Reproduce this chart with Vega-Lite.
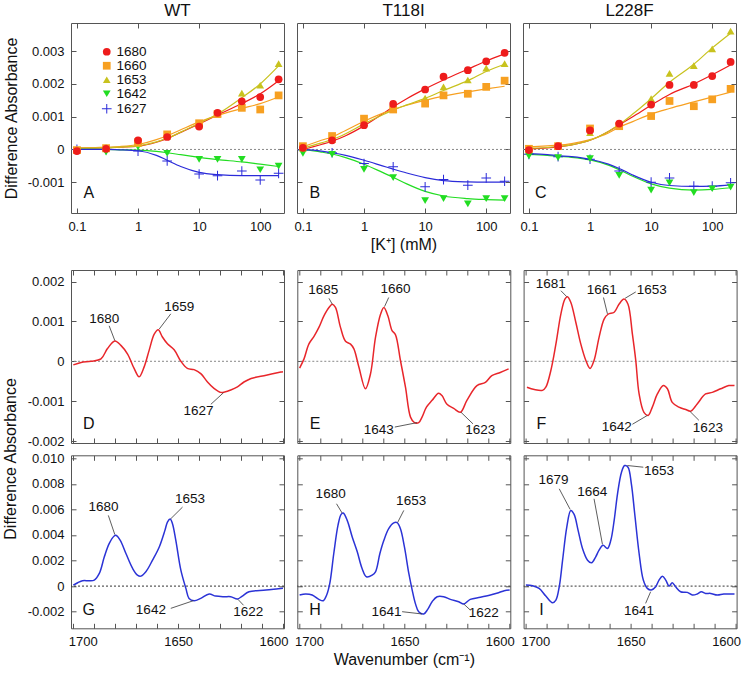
{
"$schema": "https://vega.github.io/schema/vega-lite/v6.json",
"padding": {"left": 2, "top": 1, "right": 2, "bottom": 2},
"config": {
  "font": "Liberation Sans",
  "view": {"stroke": "#555", "strokeWidth": 1},
  "axis": {"domain": false, "grid": false, "tickSize": 5, "offset": -5, "tickColor": "#555", "tickWidth": 1, "labelFontSize": 13, "labelColor": "#111", "labelPadding": 7, "titleFontSize": 16, "titleFontWeight": "normal", "titleColor": "#111", "labelOverlap": false},
  "title": {"fontSize": 17, "fontWeight": "normal", "color": "#111"}
},
"datasets": {
  "titr": [
    {"panel":"A","series":"1627","conc":0.1,"value":0},{"panel":"A","series":"1627","conc":0.3,"value":0},{"panel":"A","series":"1627","conc":1,"value":-0.00005},{"panel":"A","series":"1627","conc":3,"value":-0.00035},{"panel":"A","series":"1627","conc":10,"value":-0.00075},{"panel":"A","series":"1627","conc":20,"value":-0.0008},{"panel":"A","series":"1627","conc":50,"value":-0.00066},{"panel":"A","series":"1627","conc":100,"value":-0.00093},{"panel":"A","series":"1627","conc":200,"value":-0.00073},
    {"panel":"A","series":"1642","conc":0.1,"value":-0.00003},{"panel":"A","series":"1642","conc":0.3,"value":-0.00008},{"panel":"A","series":"1642","conc":1,"value":0.00008},{"panel":"A","series":"1642","conc":3,"value":-0.00012},{"panel":"A","series":"1642","conc":10,"value":-0.0003},{"panel":"A","series":"1642","conc":20,"value":-0.0003},{"panel":"A","series":"1642","conc":50,"value":-0.0003},{"panel":"A","series":"1642","conc":100,"value":-0.00062},{"panel":"A","series":"1642","conc":200,"value":-0.00051},
    {"panel":"A","series":"1653","conc":0.1,"value":-0.00002},{"panel":"A","series":"1653","conc":0.3,"value":0.00002},{"panel":"A","series":"1653","conc":1,"value":0.00018},{"panel":"A","series":"1653","conc":3,"value":0.0004},{"panel":"A","series":"1653","conc":10,"value":0.00075},{"panel":"A","series":"1653","conc":20,"value":0.0011},{"panel":"A","series":"1653","conc":50,"value":0.00172},{"panel":"A","series":"1653","conc":100,"value":0.00196},{"panel":"A","series":"1653","conc":200,"value":0.00262},
    {"panel":"A","series":"1660","conc":0.1,"value":-0.00002},{"panel":"A","series":"1660","conc":0.3,"value":0.00004},{"panel":"A","series":"1660","conc":1,"value":0.00022},{"panel":"A","series":"1660","conc":3,"value":0.00046},{"panel":"A","series":"1660","conc":10,"value":0.0008},{"panel":"A","series":"1660","conc":20,"value":0.00108},{"panel":"A","series":"1660","conc":50,"value":0.00127},{"panel":"A","series":"1660","conc":100,"value":0.00122},{"panel":"A","series":"1660","conc":200,"value":0.00165},
    {"panel":"A","series":"1680","conc":0.1,"value":-0.00005},{"panel":"A","series":"1680","conc":0.3,"value":0.00002},{"panel":"A","series":"1680","conc":1,"value":0.00028},{"panel":"A","series":"1680","conc":3,"value":0.00038},{"panel":"A","series":"1680","conc":10,"value":0.0007},{"panel":"A","series":"1680","conc":20,"value":0.00112},{"panel":"A","series":"1680","conc":50,"value":0.00147},{"panel":"A","series":"1680","conc":100,"value":0.0016},{"panel":"A","series":"1680","conc":200,"value":0.00214},
    {"panel":"B","series":"1627","conc":0.1,"value":-0.00002},{"panel":"B","series":"1627","conc":0.3,"value":-0.0001},{"panel":"B","series":"1627","conc":1,"value":-0.00043},{"panel":"B","series":"1627","conc":3,"value":-0.00053},{"panel":"B","series":"1627","conc":10,"value":-0.00114},{"panel":"B","series":"1627","conc":20,"value":-0.00092},{"panel":"B","series":"1627","conc":50,"value":-0.00109},{"panel":"B","series":"1627","conc":100,"value":-0.00087},{"panel":"B","series":"1627","conc":200,"value":-0.00097},
    {"panel":"B","series":"1642","conc":0.1,"value":-0.00012},{"panel":"B","series":"1642","conc":0.3,"value":-0.00015},{"panel":"B","series":"1642","conc":1,"value":-0.00061},{"panel":"B","series":"1642","conc":3,"value":-0.00086},{"panel":"B","series":"1642","conc":10,"value":-0.00156},{"panel":"B","series":"1642","conc":20,"value":-0.0015},{"panel":"B","series":"1642","conc":50,"value":-0.00166},{"panel":"B","series":"1642","conc":100,"value":-0.0015},{"panel":"B","series":"1642","conc":200,"value":-0.0015},
    {"panel":"B","series":"1653","conc":0.1,"value":0.00004},{"panel":"B","series":"1653","conc":0.3,"value":0.0003},{"panel":"B","series":"1653","conc":1,"value":0.0008},{"panel":"B","series":"1653","conc":3,"value":0.00122},{"panel":"B","series":"1653","conc":10,"value":0.00157},{"panel":"B","series":"1653","conc":20,"value":0.00191},{"panel":"B","series":"1653","conc":50,"value":0.00212},{"panel":"B","series":"1653","conc":100,"value":0.00248},{"panel":"B","series":"1653","conc":200,"value":0.00262},
    {"panel":"B","series":"1660","conc":0.1,"value":0.0001},{"panel":"B","series":"1660","conc":0.3,"value":0.00041},{"panel":"B","series":"1660","conc":1,"value":0.00094},{"panel":"B","series":"1660","conc":3,"value":0.00122},{"panel":"B","series":"1660","conc":10,"value":0.0014},{"panel":"B","series":"1660","conc":20,"value":0.00165},{"panel":"B","series":"1660","conc":50,"value":0.0017},{"panel":"B","series":"1660","conc":100,"value":0.00191},{"panel":"B","series":"1660","conc":200,"value":0.0021},
    {"panel":"B","series":"1680","conc":0.1,"value":0.00005},{"panel":"B","series":"1680","conc":0.3,"value":0.00028},{"panel":"B","series":"1680","conc":1,"value":0.00074},{"panel":"B","series":"1680","conc":3,"value":0.00139},{"panel":"B","series":"1680","conc":10,"value":0.00183},{"panel":"B","series":"1680","conc":20,"value":0.00222},{"panel":"B","series":"1680","conc":50,"value":0.00242},{"panel":"B","series":"1680","conc":100,"value":0.00269},{"panel":"B","series":"1680","conc":200,"value":0.00295},
    {"panel":"C","series":"1627","conc":0.1,"value":-0.00015},{"panel":"C","series":"1627","conc":0.3,"value":-0.00022},{"panel":"C","series":"1627","conc":1,"value":-0.0003},{"panel":"C","series":"1627","conc":3,"value":-0.00066},{"panel":"C","series":"1627","conc":10,"value":-0.001},{"panel":"C","series":"1627","conc":20,"value":-0.00087},{"panel":"C","series":"1627","conc":50,"value":-0.00112},{"panel":"C","series":"1627","conc":100,"value":-0.00112},{"panel":"C","series":"1627","conc":200,"value":-0.00102},
    {"panel":"C","series":"1642","conc":0.1,"value":-0.0002},{"panel":"C","series":"1642","conc":0.3,"value":-0.00025},{"panel":"C","series":"1642","conc":1,"value":-0.00028},{"panel":"C","series":"1642","conc":3,"value":-0.00079},{"panel":"C","series":"1642","conc":10,"value":-0.00124},{"panel":"C","series":"1642","conc":20,"value":-0.00102},{"panel":"C","series":"1642","conc":50,"value":-0.00132},{"panel":"C","series":"1642","conc":100,"value":-0.0012},{"panel":"C","series":"1642","conc":200,"value":-0.00115},
    {"panel":"C","series":"1653","conc":0.1,"value":0},{"panel":"C","series":"1653","conc":0.3,"value":0.0001},{"panel":"C","series":"1653","conc":1,"value":0.00051},{"panel":"C","series":"1653","conc":3,"value":0.00075},{"panel":"C","series":"1653","conc":10,"value":0.00155},{"panel":"C","series":"1653","conc":20,"value":0.00232},{"panel":"C","series":"1653","conc":50,"value":0.00256},{"panel":"C","series":"1653","conc":100,"value":0.00307},{"panel":"C","series":"1653","conc":200,"value":0.00361},
    {"panel":"C","series":"1660","conc":0.1,"value":0.00002},{"panel":"C","series":"1660","conc":0.3,"value":0.0001},{"panel":"C","series":"1660","conc":1,"value":0.00064},{"panel":"C","series":"1660","conc":3,"value":0.00071},{"panel":"C","series":"1660","conc":10,"value":0.00102},{"panel":"C","series":"1660","conc":20,"value":0.00148},{"panel":"C","series":"1660","conc":50,"value":0.00132},{"panel":"C","series":"1660","conc":100,"value":0.00153},{"panel":"C","series":"1660","conc":200,"value":0.00185},
    {"panel":"C","series":"1680","conc":0.1,"value":-0.00002},{"panel":"C","series":"1680","conc":0.3,"value":0.0001},{"panel":"C","series":"1680","conc":1,"value":0.00058},{"panel":"C","series":"1680","conc":3,"value":0.00079},{"panel":"C","series":"1680","conc":10,"value":0.00137},{"panel":"C","series":"1680","conc":20,"value":0.00197},{"panel":"C","series":"1680","conc":50,"value":0.00197},{"panel":"C","series":"1680","conc":100,"value":0.00224},{"panel":"C","series":"1680","conc":200,"value":0.00267}
  ],
  "fit": [
    {"panel":"A","series":"1680","conc":0.1,"value":0.00003},{"panel":"A","series":"1680","conc":0.2,"value":0.00004},{"panel":"A","series":"1680","conc":0.3,"value":0.00005},{"panel":"A","series":"1680","conc":0.5,"value":0.00007},{"panel":"A","series":"1680","conc":1,"value":0.0001},{"panel":"A","series":"1680","conc":2,"value":0.00022},{"panel":"A","series":"1680","conc":3,"value":0.00033},{"panel":"A","series":"1680","conc":5,"value":0.00052},{"panel":"A","series":"1680","conc":10,"value":0.00078},{"panel":"A","series":"1680","conc":20,"value":0.00105},{"panel":"A","series":"1680","conc":50,"value":0.0014},{"panel":"A","series":"1680","conc":100,"value":0.0017},{"panel":"A","series":"1680","conc":200,"value":0.0021},
    {"panel":"A","series":"1660","conc":0.1,"value":0.00005},{"panel":"A","series":"1660","conc":0.2,"value":0.00006},{"panel":"A","series":"1660","conc":0.3,"value":0.00007},{"panel":"A","series":"1660","conc":0.5,"value":0.00009},{"panel":"A","series":"1660","conc":1,"value":0.00015},{"panel":"A","series":"1660","conc":2,"value":0.0003},{"panel":"A","series":"1660","conc":3,"value":0.00042},{"panel":"A","series":"1660","conc":5,"value":0.0006},{"panel":"A","series":"1660","conc":10,"value":0.00084},{"panel":"A","series":"1660","conc":20,"value":0.00104},{"panel":"A","series":"1660","conc":50,"value":0.00125},{"panel":"A","series":"1660","conc":100,"value":0.0014},{"panel":"A","series":"1660","conc":200,"value":0.0016},
    {"panel":"A","series":"1653","conc":0.1,"value":0.00003},{"panel":"A","series":"1653","conc":0.2,"value":0.00004},{"panel":"A","series":"1653","conc":0.3,"value":0.00005},{"panel":"A","series":"1653","conc":0.5,"value":0.00007},{"panel":"A","series":"1653","conc":1,"value":0.00011},{"panel":"A","series":"1653","conc":2,"value":0.00023},{"panel":"A","series":"1653","conc":3,"value":0.00034},{"panel":"A","series":"1653","conc":5,"value":0.00053},{"panel":"A","series":"1653","conc":10,"value":0.0008},{"panel":"A","series":"1653","conc":20,"value":0.00108},{"panel":"A","series":"1653","conc":50,"value":0.00158},{"panel":"A","series":"1653","conc":100,"value":0.002},{"panel":"A","series":"1653","conc":200,"value":0.00255},
    {"panel":"A","series":"1642","conc":0.1,"value":0},{"panel":"A","series":"1642","conc":0.2,"value":0},{"panel":"A","series":"1642","conc":0.3,"value":0},{"panel":"A","series":"1642","conc":0.5,"value":-0.00001},{"panel":"A","series":"1642","conc":1,"value":-0.00002},{"panel":"A","series":"1642","conc":2,"value":-0.00006},{"panel":"A","series":"1642","conc":3,"value":-0.0001},{"panel":"A","series":"1642","conc":5,"value":-0.00016},{"panel":"A","series":"1642","conc":10,"value":-0.00024},{"panel":"A","series":"1642","conc":20,"value":-0.00031},{"panel":"A","series":"1642","conc":50,"value":-0.00038},{"panel":"A","series":"1642","conc":100,"value":-0.00045},{"panel":"A","series":"1642","conc":200,"value":-0.00052},
    {"panel":"A","series":"1627","conc":0.1,"value":0},{"panel":"A","series":"1627","conc":0.2,"value":0},{"panel":"A","series":"1627","conc":0.3,"value":0},{"panel":"A","series":"1627","conc":0.5,"value":-0.00001},{"panel":"A","series":"1627","conc":1,"value":-0.00004},{"panel":"A","series":"1627","conc":2,"value":-0.00018},{"panel":"A","series":"1627","conc":3,"value":-0.00033},{"panel":"A","series":"1627","conc":5,"value":-0.00052},{"panel":"A","series":"1627","conc":10,"value":-0.0007},{"panel":"A","series":"1627","conc":20,"value":-0.00077},{"panel":"A","series":"1627","conc":50,"value":-0.0008},{"panel":"A","series":"1627","conc":100,"value":-0.0008},{"panel":"A","series":"1627","conc":200,"value":-0.0008},
    {"panel":"B","series":"1680","conc":0.1,"value":0},{"panel":"B","series":"1680","conc":0.2,"value":0.00015},{"panel":"B","series":"1680","conc":0.3,"value":0.00025},{"panel":"B","series":"1680","conc":0.5,"value":0.00042},{"panel":"B","series":"1680","conc":1,"value":0.00072},{"panel":"B","series":"1680","conc":2,"value":0.00108},{"panel":"B","series":"1680","conc":3,"value":0.0013},{"panel":"B","series":"1680","conc":5,"value":0.00155},{"panel":"B","series":"1680","conc":10,"value":0.00185},{"panel":"B","series":"1680","conc":20,"value":0.00212},{"panel":"B","series":"1680","conc":50,"value":0.00245},{"panel":"B","series":"1680","conc":100,"value":0.0027},{"panel":"B","series":"1680","conc":200,"value":0.00292},
    {"panel":"B","series":"1660","conc":0.1,"value":0.00008},{"panel":"B","series":"1660","conc":0.2,"value":0.00028},{"panel":"B","series":"1660","conc":0.3,"value":0.00038},{"panel":"B","series":"1660","conc":0.5,"value":0.00058},{"panel":"B","series":"1660","conc":1,"value":0.00086},{"panel":"B","series":"1660","conc":2,"value":0.0011},{"panel":"B","series":"1660","conc":3,"value":0.00122},{"panel":"B","series":"1660","conc":5,"value":0.00135},{"panel":"B","series":"1660","conc":10,"value":0.0015},{"panel":"B","series":"1660","conc":20,"value":0.00163},{"panel":"B","series":"1660","conc":50,"value":0.00176},{"panel":"B","series":"1660","conc":100,"value":0.00185},{"panel":"B","series":"1660","conc":200,"value":0.00193},
    {"panel":"B","series":"1653","conc":0.1,"value":0.00004},{"panel":"B","series":"1653","conc":0.2,"value":0.0002},{"panel":"B","series":"1653","conc":0.3,"value":0.0003},{"panel":"B","series":"1653","conc":0.5,"value":0.00048},{"panel":"B","series":"1653","conc":1,"value":0.00078},{"panel":"B","series":"1653","conc":2,"value":0.00105},{"panel":"B","series":"1653","conc":3,"value":0.0012},{"panel":"B","series":"1653","conc":5,"value":0.00136},{"panel":"B","series":"1653","conc":10,"value":0.00156},{"panel":"B","series":"1653","conc":20,"value":0.0018},{"panel":"B","series":"1653","conc":50,"value":0.0021},{"panel":"B","series":"1653","conc":100,"value":0.00238},{"panel":"B","series":"1653","conc":200,"value":0.0026},
    {"panel":"B","series":"1642","conc":0.1,"value":0},{"panel":"B","series":"1642","conc":0.2,"value":-0.00008},{"panel":"B","series":"1642","conc":0.3,"value":-0.00014},{"panel":"B","series":"1642","conc":0.5,"value":-0.00025},{"panel":"B","series":"1642","conc":1,"value":-0.00045},{"panel":"B","series":"1642","conc":2,"value":-0.0007},{"panel":"B","series":"1642","conc":3,"value":-0.00085},{"panel":"B","series":"1642","conc":5,"value":-0.00105},{"panel":"B","series":"1642","conc":10,"value":-0.00128},{"panel":"B","series":"1642","conc":20,"value":-0.00142},{"panel":"B","series":"1642","conc":50,"value":-0.0015},{"panel":"B","series":"1642","conc":100,"value":-0.00153},{"panel":"B","series":"1642","conc":200,"value":-0.00155},
    {"panel":"B","series":"1627","conc":0.1,"value":0},{"panel":"B","series":"1627","conc":0.2,"value":-0.00005},{"panel":"B","series":"1627","conc":0.3,"value":-0.0001},{"panel":"B","series":"1627","conc":0.5,"value":-0.00018},{"panel":"B","series":"1627","conc":1,"value":-0.00033},{"panel":"B","series":"1627","conc":2,"value":-0.0005},{"panel":"B","series":"1627","conc":3,"value":-0.0006},{"panel":"B","series":"1627","conc":5,"value":-0.00072},{"panel":"B","series":"1627","conc":10,"value":-0.00086},{"panel":"B","series":"1627","conc":20,"value":-0.00095},{"panel":"B","series":"1627","conc":50,"value":-0.00099},{"panel":"B","series":"1627","conc":100,"value":-0.001},{"panel":"B","series":"1627","conc":200,"value":-0.001},
    {"panel":"C","series":"1680","conc":0.1,"value":0.00002},{"panel":"C","series":"1680","conc":0.2,"value":0.00005},{"panel":"C","series":"1680","conc":0.3,"value":0.00008},{"panel":"C","series":"1680","conc":0.5,"value":0.00014},{"panel":"C","series":"1680","conc":1,"value":0.00028},{"panel":"C","series":"1680","conc":2,"value":0.00055},{"panel":"C","series":"1680","conc":3,"value":0.00075},{"panel":"C","series":"1680","conc":5,"value":0.001},{"panel":"C","series":"1680","conc":10,"value":0.00135},{"panel":"C","series":"1680","conc":20,"value":0.00168},{"panel":"C","series":"1680","conc":50,"value":0.002},{"panel":"C","series":"1680","conc":100,"value":0.00228},{"panel":"C","series":"1680","conc":200,"value":0.00258},
    {"panel":"C","series":"1660","conc":0.1,"value":0.00008},{"panel":"C","series":"1660","conc":0.2,"value":0.00011},{"panel":"C","series":"1660","conc":0.3,"value":0.00013},{"panel":"C","series":"1660","conc":0.5,"value":0.00018},{"panel":"C","series":"1660","conc":1,"value":0.0003},{"panel":"C","series":"1660","conc":2,"value":0.0005},{"panel":"C","series":"1660","conc":3,"value":0.00068},{"panel":"C","series":"1660","conc":5,"value":0.00085},{"panel":"C","series":"1660","conc":10,"value":0.00108},{"panel":"C","series":"1660","conc":20,"value":0.00125},{"panel":"C","series":"1660","conc":50,"value":0.00145},{"panel":"C","series":"1660","conc":100,"value":0.0016},{"panel":"C","series":"1660","conc":200,"value":0.00175},
    {"panel":"C","series":"1653","conc":0.1,"value":0.00004},{"panel":"C","series":"1653","conc":0.2,"value":0.00006},{"panel":"C","series":"1653","conc":0.3,"value":0.00009},{"panel":"C","series":"1653","conc":0.5,"value":0.00014},{"panel":"C","series":"1653","conc":1,"value":0.00028},{"panel":"C","series":"1653","conc":2,"value":0.00055},{"panel":"C","series":"1653","conc":3,"value":0.00076},{"panel":"C","series":"1653","conc":5,"value":0.00108},{"panel":"C","series":"1653","conc":10,"value":0.00155},{"panel":"C","series":"1653","conc":20,"value":0.00205},{"panel":"C","series":"1653","conc":50,"value":0.0026},{"panel":"C","series":"1653","conc":100,"value":0.0031},{"panel":"C","series":"1653","conc":200,"value":0.00355},
    {"panel":"C","series":"1642","conc":0.1,"value":-0.00015},{"panel":"C","series":"1642","conc":0.2,"value":-0.00018},{"panel":"C","series":"1642","conc":0.3,"value":-0.00021},{"panel":"C","series":"1642","conc":0.5,"value":-0.00024},{"panel":"C","series":"1642","conc":1,"value":-0.00032},{"panel":"C","series":"1642","conc":2,"value":-0.00048},{"panel":"C","series":"1642","conc":3,"value":-0.00062},{"panel":"C","series":"1642","conc":5,"value":-0.00082},{"panel":"C","series":"1642","conc":10,"value":-0.00105},{"panel":"C","series":"1642","conc":20,"value":-0.00118},{"panel":"C","series":"1642","conc":50,"value":-0.00124},{"panel":"C","series":"1642","conc":100,"value":-0.00122},{"panel":"C","series":"1642","conc":200,"value":-0.00117},
    {"panel":"C","series":"1627","conc":0.1,"value":-0.00013},{"panel":"C","series":"1627","conc":0.2,"value":-0.00016},{"panel":"C","series":"1627","conc":0.3,"value":-0.00019},{"panel":"C","series":"1627","conc":0.5,"value":-0.00022},{"panel":"C","series":"1627","conc":1,"value":-0.0003},{"panel":"C","series":"1627","conc":2,"value":-0.00045},{"panel":"C","series":"1627","conc":3,"value":-0.00058},{"panel":"C","series":"1627","conc":5,"value":-0.00078},{"panel":"C","series":"1627","conc":10,"value":-0.001},{"panel":"C","series":"1627","conc":20,"value":-0.0011},{"panel":"C","series":"1627","conc":50,"value":-0.00113},{"panel":"C","series":"1627","conc":100,"value":-0.00112},{"panel":"C","series":"1627","conc":200,"value":-0.00108}
  ],
  "spec": [
    {"panel":"D","wn":1700,"value":-0.00009},{"panel":"D","wn":1696.3,"value":-0.00003},{"panel":"D","wn":1691.6,"value":0},{"panel":"D","wn":1686.8,"value":0.00006},{"panel":"D","wn":1683.7,"value":0.00032},{"panel":"D","wn":1680.2,"value":0.00051},{"panel":"D","wn":1677.3,"value":0.0004},{"panel":"D","wn":1674.1,"value":0.00018},{"panel":"D","wn":1671,"value":-0.00018},{"panel":"D","wn":1668.6,"value":-0.00039},{"panel":"D","wn":1666.2,"value":-0.00014},{"panel":"D","wn":1663.8,"value":0.00028},{"panel":"D","wn":1661.4,"value":0.00068},{"panel":"D","wn":1659.5,"value":0.00079},{"panel":"D","wn":1657.5,"value":0.00061},{"panel":"D","wn":1655.1,"value":0.00044},{"panel":"D","wn":1651.9,"value":0.00029},{"panel":"D","wn":1648.7,"value":0},{"panel":"D","wn":1645.6,"value":-0.00018},{"panel":"D","wn":1642.4,"value":-0.00021},{"panel":"D","wn":1639.2,"value":-0.00031},{"panel":"D","wn":1636,"value":-0.00052},{"panel":"D","wn":1632.9,"value":-0.00068},{"panel":"D","wn":1629.7,"value":-0.00078},{"panel":"D","wn":1627.8,"value":-0.00077},{"panel":"D","wn":1624.9,"value":-0.00072},{"panel":"D","wn":1621.7,"value":-0.00064},{"panel":"D","wn":1618.6,"value":-0.00052},{"panel":"D","wn":1615.2,"value":-0.00043},{"panel":"D","wn":1608,"value":-0.00035},{"panel":"D","wn":1601,"value":-0.00027},{"panel":"D","wn":1600,"value":-0.00026},
    {"panel":"E","wn":1700,"value":-0.00017},{"panel":"E","wn":1697.9,"value":0.00006},{"panel":"E","wn":1695.6,"value":0.00043},{"panel":"E","wn":1693.2,"value":0.00062},{"panel":"E","wn":1690.8,"value":0.00085},{"panel":"E","wn":1688.4,"value":0.00114},{"panel":"E","wn":1686,"value":0.00135},{"panel":"E","wn":1684.4,"value":0.00143},{"panel":"E","wn":1682.9,"value":0.00135},{"panel":"E","wn":1680.5,"value":0.00085},{"panel":"E","wn":1678.1,"value":0.0005},{"panel":"E","wn":1675.7,"value":0.00043},{"panel":"E","wn":1674.1,"value":0.00031},{"panel":"E","wn":1671.7,"value":-0.00015},{"panel":"E","wn":1668.6,"value":-0.00069},{"panel":"E","wn":1666.2,"value":-0.00032},{"panel":"E","wn":1663.8,"value":0.0006},{"panel":"E","wn":1661.4,"value":0.00118},{"panel":"E","wn":1659.8,"value":0.00135},{"panel":"E","wn":1657.9,"value":0.00114},{"panel":"E","wn":1655.9,"value":0.00077},{"panel":"E","wn":1654.3,"value":0.00067},{"panel":"E","wn":1651.9,"value":0.00002},{"panel":"E","wn":1649.5,"value":-0.00065},{"panel":"E","wn":1647.1,"value":-0.0014},{"panel":"E","wn":1645.2,"value":-0.00154},{"panel":"E","wn":1643.2,"value":-0.00154},{"panel":"E","wn":1641.6,"value":-0.0014},{"panel":"E","wn":1639.5,"value":-0.00115},{"panel":"E","wn":1636.8,"value":-0.00098},{"panel":"E","wn":1633.7,"value":-0.0008},{"panel":"E","wn":1632.1,"value":-0.00086},{"panel":"E","wn":1629.7,"value":-0.00108},{"panel":"E","wn":1626.5,"value":-0.00118},{"panel":"E","wn":1623.3,"value":-0.00128},{"panel":"E","wn":1620.2,"value":-0.00098},{"panel":"E","wn":1615.4,"value":-0.00061},{"panel":"E","wn":1611.4,"value":-0.00053},{"panel":"E","wn":1608.3,"value":-0.00036},{"panel":"E","wn":1604.3,"value":-0.00028},{"panel":"E","wn":1600.3,"value":-0.00019},
    {"panel":"F","wn":1699.5,"value":-0.00065},{"panel":"F","wn":1696,"value":-0.00071},{"panel":"F","wn":1692.1,"value":-0.00073},{"panel":"F","wn":1690.5,"value":-0.00065},{"panel":"F","wn":1688.1,"value":-0.00023},{"panel":"F","wn":1685.7,"value":0.00043},{"panel":"F","wn":1683.3,"value":0.00119},{"panel":"F","wn":1681.4,"value":0.00156},{"panel":"F","wn":1680.2,"value":0.00162},{"panel":"F","wn":1678.6,"value":0.00148},{"panel":"F","wn":1676.2,"value":0.00098},{"panel":"F","wn":1673.8,"value":0.00043},{"panel":"F","wn":1671.4,"value":0.00002},{"panel":"F","wn":1669.4,"value":-0.00018},{"panel":"F","wn":1667.5,"value":0.00002},{"panel":"F","wn":1665.1,"value":0.0006},{"panel":"F","wn":1662.7,"value":0.00106},{"panel":"F","wn":1660.8,"value":0.00118},{"panel":"F","wn":1657.9,"value":0.00123},{"panel":"F","wn":1655.6,"value":0.00143},{"panel":"F","wn":1653.2,"value":0.00156},{"panel":"F","wn":1651.3,"value":0.00143},{"panel":"F","wn":1649.2,"value":0.00068},{"panel":"F","wn":1647.6,"value":0.00002},{"panel":"F","wn":1646,"value":-0.00082},{"panel":"F","wn":1643.7,"value":-0.00128},{"panel":"F","wn":1641.7,"value":-0.00136},{"panel":"F","wn":1639.7,"value":-0.00115},{"panel":"F","wn":1637.3,"value":-0.00082},{"panel":"F","wn":1634.4,"value":-0.00061},{"panel":"F","wn":1632.5,"value":-0.00069},{"panel":"F","wn":1630.2,"value":-0.00103},{"panel":"F","wn":1627,"value":-0.00115},{"panel":"F","wn":1623.8,"value":-0.00121},{"panel":"F","wn":1621.4,"value":-0.00125},{"panel":"F","wn":1618.3,"value":-0.00107},{"panel":"F","wn":1614.3,"value":-0.00082},{"panel":"F","wn":1611.1,"value":-0.00078},{"panel":"F","wn":1607.1,"value":-0.00069},{"panel":"F","wn":1603.2,"value":-0.00061},{"panel":"F","wn":1600.5,"value":-0.00061},
    {"panel":"G","wn":1700,"value":0.00008},{"panel":"G","wn":1697.9,"value":0.00026},{"panel":"G","wn":1695.6,"value":0.00042},{"panel":"G","wn":1692.4,"value":0.00042},{"panel":"G","wn":1690,"value":0.00047},{"panel":"G","wn":1687.6,"value":0.00099},{"panel":"G","wn":1685.2,"value":0.00229},{"panel":"G","wn":1682.9,"value":0.00332},{"panel":"G","wn":1680.5,"value":0.00392},{"panel":"G","wn":1679.7,"value":0.00397},{"panel":"G","wn":1677.6,"value":0.00358},{"panel":"G","wn":1674.9,"value":0.00255},{"panel":"G","wn":1671.7,"value":0.00138},{"panel":"G","wn":1669.4,"value":0.00086},{"panel":"G","wn":1667.8,"value":0.00078},{"panel":"G","wn":1665.4,"value":0.00112},{"panel":"G","wn":1662.2,"value":0.00203},{"panel":"G","wn":1659,"value":0.00306},{"panel":"G","wn":1656.3,"value":0.00436},{"panel":"G","wn":1655.1,"value":0.00501},{"panel":"G","wn":1653.8,"value":0.00525},{"panel":"G","wn":1652.7,"value":0.00488},{"panel":"G","wn":1651.1,"value":0.00358},{"panel":"G","wn":1648.7,"value":0.00125},{"panel":"G","wn":1646.3,"value":-0.00018},{"panel":"G","wn":1644.8,"value":-0.00096},{"panel":"G","wn":1642.4,"value":-0.00114},{"panel":"G","wn":1639.2,"value":-0.00096},{"panel":"G","wn":1635.2,"value":-0.00062},{"panel":"G","wn":1632.1,"value":-0.00078},{"panel":"G","wn":1628.1,"value":-0.00083},{"panel":"G","wn":1624.9,"value":-0.00083},{"panel":"G","wn":1621.7,"value":-0.00101},{"panel":"G","wn":1619.4,"value":-0.00078},{"panel":"G","wn":1616.2,"value":-0.00044},{"panel":"G","wn":1608.1,"value":-0.00031},{"panel":"G","wn":1601,"value":-0.00018},{"panel":"G","wn":1600,"value":-0.00017},
    {"panel":"H","wn":1700,"value":-0.0007},{"panel":"H","wn":1697.1,"value":-0.00062},{"panel":"H","wn":1694,"value":-0.0007},{"panel":"H","wn":1690.8,"value":-0.00104},{"panel":"H","wn":1688.7,"value":-0.00114},{"panel":"H","wn":1687.1,"value":-0.0007},{"panel":"H","wn":1685.6,"value":0.00021},{"panel":"H","wn":1683.7,"value":0.00255},{"panel":"H","wn":1681.7,"value":0.00475},{"panel":"H","wn":1680.2,"value":0.00561},{"panel":"H","wn":1679.2,"value":0.00571},{"panel":"H","wn":1677.3,"value":0.00514},{"panel":"H","wn":1674.9,"value":0.00384},{"panel":"H","wn":1672.5,"value":0.00268},{"panel":"H","wn":1670.2,"value":0.00138},{"panel":"H","wn":1668.1,"value":0.00073},{"panel":"H","wn":1665.4,"value":0.00086},{"panel":"H","wn":1663.8,"value":0.00112},{"panel":"H","wn":1661.7,"value":0.00255},{"panel":"H","wn":1659.8,"value":0.00358},{"panel":"H","wn":1657.5,"value":0.00449},{"panel":"H","wn":1655.1,"value":0.00494},{"panel":"H","wn":1653.5,"value":0.00496},{"panel":"H","wn":1651.9,"value":0.00449},{"panel":"H","wn":1650,"value":0.00306},{"panel":"H","wn":1647.9,"value":0.00099},{"panel":"H","wn":1646.3,"value":-0.00031},{"panel":"H","wn":1644.8,"value":-0.00135},{"panel":"H","wn":1643.2,"value":-0.002},{"panel":"H","wn":1640.8,"value":-0.00218},{"panel":"H","wn":1638.9,"value":-0.00182},{"panel":"H","wn":1636.8,"value":-0.00122},{"panel":"H","wn":1634.4,"value":-0.00083},{"panel":"H","wn":1631.3,"value":-0.00083},{"panel":"H","wn":1628.1,"value":-0.00104},{"panel":"H","wn":1624.1,"value":-0.00122},{"panel":"H","wn":1621.7,"value":-0.0014},{"panel":"H","wn":1618.6,"value":-0.00104},{"panel":"H","wn":1613.8,"value":-0.00088},{"panel":"H","wn":1609,"value":-0.0007},{"panel":"H","wn":1605.1,"value":-0.00052},{"panel":"H","wn":1602.4,"value":-0.00036},{"panel":"H","wn":1599.8,"value":-0.00031},
    {"panel":"I","wn":1700,"value":0.00008},{"panel":"I","wn":1696.8,"value":0.00003},{"panel":"I","wn":1693.7,"value":-0.00018},{"panel":"I","wn":1690.5,"value":-0.00078},{"panel":"I","wn":1687.3,"value":-0.0013},{"panel":"I","wn":1685.7,"value":-0.00109},{"panel":"I","wn":1684.1,"value":-0.00005},{"panel":"I","wn":1682.5,"value":0.00203},{"panel":"I","wn":1680.5,"value":0.00462},{"panel":"I","wn":1678.6,"value":0.00592},{"panel":"I","wn":1677,"value":0.00561},{"panel":"I","wn":1675.1,"value":0.00436},{"panel":"I","wn":1673,"value":0.00294},{"panel":"I","wn":1670.6,"value":0.00203},{"panel":"I","wn":1668.7,"value":0.00182},{"panel":"I","wn":1666.7,"value":0.00229},{"panel":"I","wn":1665.1,"value":0.00281},{"panel":"I","wn":1663.2,"value":0.00319},{"panel":"I","wn":1661.1,"value":0.00294},{"panel":"I","wn":1659.5,"value":0.00358},{"panel":"I","wn":1657.9,"value":0.00514},{"panel":"I","wn":1656.3,"value":0.00722},{"panel":"I","wn":1654.4,"value":0.00891},{"panel":"I","wn":1652.9,"value":0.00943},{"panel":"I","wn":1651.3,"value":0.0093},{"panel":"I","wn":1649.7,"value":0.008},{"panel":"I","wn":1648.1,"value":0.00566},{"panel":"I","wn":1646,"value":0.00255},{"panel":"I","wn":1644,"value":0.00047},{"panel":"I","wn":1642.1,"value":-0.00018},{"panel":"I","wn":1640.2,"value":-0.00031},{"panel":"I","wn":1638.1,"value":-0.00005},{"panel":"I","wn":1636.5,"value":0.00047},{"panel":"I","wn":1634.9,"value":0.00078},{"panel":"I","wn":1633.3,"value":0.00047},{"panel":"I","wn":1631.7,"value":0},{"panel":"I","wn":1630.2,"value":0.00026},{"panel":"I","wn":1628.6,"value":-0.00005},{"panel":"I","wn":1626.2,"value":-0.00044},{"panel":"I","wn":1623,"value":-0.00049},{"panel":"I","wn":1620.6,"value":-0.0007},{"panel":"I","wn":1618.3,"value":-0.00062},{"panel":"I","wn":1616.3,"value":-0.00044},{"panel":"I","wn":1614.3,"value":-0.00057},{"panel":"I","wn":1611.9,"value":-0.00057},{"panel":"I","wn":1608.7,"value":-0.0007},{"panel":"I","wn":1605.6,"value":-0.00062},{"panel":"I","wn":1600.5,"value":-0.00062}
  ],
  "labels": [
    {"panel":"D","wn":1685.2,"value":0.00106,"text":"1680"},{"panel":"D","wn":1649.5,"value":0.00137,"text":"1659"},{"panel":"D","wn":1640.3,"value":-0.00124,"text":"1627"},
    {"panel":"E","wn":1688.7,"value":0.00178,"text":"1685"},{"panel":"E","wn":1654.3,"value":0.00181,"text":"1660"},{"panel":"E","wn":1662.2,"value":-0.00172,"text":"1643"},{"panel":"E","wn":1613.8,"value":-0.00173,"text":"1623"},
    {"panel":"F","wn":1688.1,"value":0.00195,"text":"1681"},{"panel":"F","wn":1663.8,"value":0.00178,"text":"1661"},{"panel":"F","wn":1640,"value":0.00178,"text":"1653"},{"panel":"F","wn":1656.7,"value":-0.00165,"text":"1642"},{"panel":"F","wn":1613.2,"value":-0.00168,"text":"1623"},
    {"panel":"G","wn":1685.6,"value":0.00618,"text":"1680"},{"panel":"G","wn":1644.3,"value":0.00678,"text":"1653"},{"panel":"G","wn":1663,"value":-0.00187,"text":"1642"},{"panel":"G","wn":1616.5,"value":-0.00203,"text":"1622"},
    {"panel":"H","wn":1685.2,"value":0.00722,"text":"1680"},{"panel":"H","wn":1646.8,"value":0.00662,"text":"1653"},{"panel":"H","wn":1658.6,"value":-0.002,"text":"1641"},{"panel":"H","wn":1612.2,"value":-0.00208,"text":"1622"},
    {"panel":"I","wn":1686.8,"value":0.00826,"text":"1679"},{"panel":"I","wn":1668.3,"value":0.00735,"text":"1664"},{"panel":"I","wn":1636.5,"value":0.00904,"text":"1653"},{"panel":"I","wn":1646,"value":-0.00195,"text":"1641"}
  ],
  "leaders": [
    {"panel":"D","wn1":1682.9,"v1":0.00089,"wn2":1680.2,"v2":0.00052},{"panel":"D","wn1":1653.5,"v1":0.00119,"wn2":1659,"v2":0.00081},{"panel":"D","wn1":1634.4,"v1":-0.00108,"wn2":1628.4,"v2":-0.00079},
    {"panel":"E","wn1":1686,"v1":0.00158,"wn2":1684.4,"v2":0.00143},{"panel":"E","wn1":1657.5,"v1":0.0016,"wn2":1659.5,"v2":0.00137},{"panel":"E","wn1":1654.6,"v1":-0.00165,"wn2":1644,"v2":-0.00154},{"panel":"E","wn1":1617.3,"v1":-0.00157,"wn2":1623,"v2":-0.00128},
    {"panel":"F","wn1":1683.3,"v1":0.00177,"wn2":1680.5,"v2":0.00162},{"panel":"F","wn1":1663,"v1":0.0016,"wn2":1661.1,"v2":0.00119},{"panel":"F","wn1":1647.6,"v1":0.00174,"wn2":1652.7,"v2":0.00158},{"panel":"F","wn1":1649.2,"v1":-0.00158,"wn2":1642.1,"v2":-0.00136},{"panel":"F","wn1":1617.5,"v1":-0.00148,"wn2":1621.7,"v2":-0.00126},
    {"panel":"G","wn1":1683.3,"v1":0.00553,"wn2":1680.2,"v2":0.00403},{"panel":"G","wn1":1647.9,"v1":0.00618,"wn2":1653.5,"v2":0.00527},{"panel":"G","wn1":1653.5,"v1":-0.00174,"wn2":1642.7,"v2":-0.00114},{"panel":"G","wn1":1621.5,"v1":-0.00103,"wn2":1618.8,"v2":-0.0015},
    {"panel":"H","wn1":1682.4,"v1":0.00644,"wn2":1679.7,"v2":0.00571},{"panel":"H","wn1":1650.3,"v1":0.00592,"wn2":1653.2,"v2":0.00499},{"panel":"H","wn1":1651.1,"v1":-0.002,"wn2":1641.6,"v2":-0.00218},{"panel":"H","wn1":1621.7,"v1":-0.0014,"wn2":1618.6,"v2":-0.00187},
    {"panel":"I","wn1":1684.1,"v1":0.00761,"wn2":1678.9,"v2":0.006},{"panel":"I","wn1":1667.5,"v1":0.00683,"wn2":1663.5,"v2":0.00327},{"panel":"I","wn1":1644,"v1":0.0093,"wn2":1651.6,"v2":0.00943},{"panel":"I","wn1":1642.9,"v1":-0.00135,"wn2":1640.5,"v2":-0.00044}
  ],
  "letters": [
    {"panel":"A","x":0.157,"y":-0.00132,"text":"A"},{"panel":"B","x":0.157,"y":-0.00132,"text":"B"},{"panel":"C","x":0.157,"y":-0.00132,"text":"C"},
    {"panel":"D","x":1692.6,"y":-0.00158,"text":"D"},{"panel":"E","x":1692.6,"y":-0.00158,"text":"E"},{"panel":"F","x":1692.6,"y":-0.00158,"text":"F"},
    {"panel":"G","x":1692.6,"y":-0.0019,"text":"G"},{"panel":"H","x":1692.6,"y":-0.0019,"text":"H"},{"panel":"I","x":1692.6,"y":-0.0019,"text":"I"}
  ]
},
"vconcat": [
  {
    "spacing": 8,
    "resolve": {"scale": {"fill": "independent", "stroke": "independent", "shape": "independent"}},
    "hconcat": [
      {
        "width": 213, "height": 190,
        "title": {"text": "WT", "frame": "group", "anchor": "middle", "offset": 3},
        "layer": [
          {"data": {"values": [{}]}, "mark": {"type": "rule", "strokeDash": [2, 2], "color": "#888", "strokeWidth": 1},
           "encoding": {"y": {"datum": 0, "type": "quantitative", "scale": {"domain": [-0.00194, 0.00386], "nice": false, "zero": false}, "axis": null}}},
          {"data": {"name": "fit"}, "transform": [{"filter": "datum.panel == 'A'"}],
           "mark": {"type": "line", "interpolate": "monotone", "strokeWidth": 1.2},
           "encoding": {
             "x": {"field": "conc", "type": "quantitative", "scale": {"type": "log", "domain": [0.08, 245], "nice": false}, "axis": {"values": [0.1, 1, 10, 100], "format": "~g", "title": null}},
             "y": {"field": "value", "type": "quantitative", "scale": {"domain": [-0.00194, 0.00386], "nice": false, "zero": false}, "axis": {"values": [-0.001, 0, 0.001, 0.002, 0.003], "labelExpr": "datum.value == 0 ? '0' : replace(format(datum.value, '.3f'), '\u2212', '-')", "title": "Difference Absorbance", "titlePadding": 8}},
             "stroke": {"field": "series", "type": "nominal", "scale": {"domain": ["1627", "1642", "1653", "1660", "1680"], "range": ["#2b2bd9", "#22dd22", "#c8c21e", "#f7a021", "#ee1c1c"]}, "legend": null}}},
          {"data": {"name": "titr"}, "transform": [{"filter": "datum.panel == 'A'"}],
           "mark": {"type": "point", "filled": true, "opacity": 1, "size": 60, "strokeWidth": 0},
           "encoding": {
             "x": {"field": "conc", "type": "quantitative", "scale": {"type": "log", "domain": [0.08, 245], "nice": false}, "axis": null},
             "y": {"field": "value", "type": "quantitative", "scale": {"domain": [-0.00194, 0.00386], "nice": false, "zero": false}, "axis": null},
             "fill": {"field": "series", "type": "nominal", "scale": {"domain": ["1680", "1660", "1653", "1642", "1627"], "range": ["#ee1c1c", "#f7a021", "#c8c21e", "#22dd22", "#2b2bd9"]}, "legend": {"orient": "none", "legendX": 29, "legendY": 22, "title": null, "padding": 0, "rowPadding": -1, "labelFontSize": 13.5, "labelOffset": 3, "symbolSize": 60, "labelColor": "#111"}},
             "shape": {"field": "series", "type": "nominal", "scale": {"domain": ["1680", "1660", "1653", "1642", "1627"], "range": ["circle", "square", "triangle-up", "triangle-down", "M-1.25,-0.13H1.25V0.13H-1.25ZM-0.13,-1.25H0.13V1.25H-0.13Z"]}, "legend": {"orient": "none", "legendX": 29, "legendY": 22, "title": null, "padding": 0, "rowPadding": -1, "labelFontSize": 13.5, "labelOffset": 3, "symbolSize": 60, "labelColor": "#111"}}}},
          {"data": {"name": "letters"}, "transform": [{"filter": "datum.panel == 'A'"}],
           "mark": {"type": "text", "fontSize": 16, "color": "#111"},
           "encoding": {
             "x": {"field": "x", "type": "quantitative", "scale": {"type": "log", "domain": [0.08, 245], "nice": false}, "axis": {"orient": "top", "values": [0.1, 1, 10, 100], "labels": false, "title": null}},
             "y": {"field": "y", "type": "quantitative", "scale": {"domain": [-0.00194, 0.00386], "nice": false, "zero": false}, "axis": {"orient": "right", "values": [-0.001, 0, 0.001, 0.002, 0.003], "labels": false, "title": null}},
             "text": {"field": "text"}}}
        ],
        "resolve": {"axis": {"x": "independent", "y": "independent"}}
      },
      {
        "width": 213, "height": 190,
        "title": {"text": "T118I", "frame": "group", "anchor": "middle", "offset": 3},
        "layer": [
          {"data": {"values": [{}]}, "mark": {"type": "rule", "strokeDash": [2, 2], "color": "#888", "strokeWidth": 1},
           "encoding": {"y": {"datum": 0, "type": "quantitative", "scale": {"domain": [-0.00194, 0.00386], "nice": false, "zero": false}, "axis": null}}},
          {"data": {"name": "fit"}, "transform": [{"filter": "datum.panel == 'B'"}],
           "mark": {"type": "line", "interpolate": "monotone", "strokeWidth": 1.2},
           "encoding": {
             "x": {"field": "conc", "type": "quantitative", "scale": {"type": "log", "domain": [0.08, 245], "nice": false}, "axis": {"values": [0.1, 1, 10, 100], "format": "~g", "title": "[K\u207a] (mM)", "titlePadding": 3}},
             "y": {"field": "value", "type": "quantitative", "scale": {"domain": [-0.00194, 0.00386], "nice": false, "zero": false}, "axis": {"values": [-0.001, 0, 0.001, 0.002, 0.003], "labels": false, "title": null}},
             "stroke": {"field": "series", "type": "nominal", "scale": {"domain": ["1627", "1642", "1653", "1660", "1680"], "range": ["#2b2bd9", "#22dd22", "#c8c21e", "#f7a021", "#ee1c1c"]}, "legend": null}}},
          {"data": {"name": "titr"}, "transform": [{"filter": "datum.panel == 'B'"}],
           "mark": {"type": "point", "filled": true, "opacity": 1, "size": 60, "strokeWidth": 0},
           "encoding": {
             "x": {"field": "conc", "type": "quantitative", "scale": {"type": "log", "domain": [0.08, 245], "nice": false}, "axis": null},
             "y": {"field": "value", "type": "quantitative", "scale": {"domain": [-0.00194, 0.00386], "nice": false, "zero": false}, "axis": null},
             "fill": {"field": "series", "type": "nominal", "scale": {"domain": ["1680", "1660", "1653", "1642", "1627"], "range": ["#ee1c1c", "#f7a021", "#c8c21e", "#22dd22", "#2b2bd9"]}, "legend": null},
             "shape": {"field": "series", "type": "nominal", "scale": {"domain": ["1680", "1660", "1653", "1642", "1627"], "range": ["circle", "square", "triangle-up", "triangle-down", "M-1.25,-0.13H1.25V0.13H-1.25ZM-0.13,-1.25H0.13V1.25H-0.13Z"]}, "legend": null}}},
          {"data": {"name": "letters"}, "transform": [{"filter": "datum.panel == 'B'"}],
           "mark": {"type": "text", "fontSize": 16, "color": "#111"},
           "encoding": {
             "x": {"field": "x", "type": "quantitative", "scale": {"type": "log", "domain": [0.08, 245], "nice": false}, "axis": {"orient": "top", "values": [0.1, 1, 10, 100], "labels": false, "title": null}},
             "y": {"field": "y", "type": "quantitative", "scale": {"domain": [-0.00194, 0.00386], "nice": false, "zero": false}, "axis": {"orient": "right", "values": [-0.001, 0, 0.001, 0.002, 0.003], "labels": false, "title": null}},
             "text": {"field": "text"}}}
        ],
        "resolve": {"axis": {"x": "independent", "y": "independent"}}
      },
      {
        "width": 213, "height": 190,
        "title": {"text": "L228F", "frame": "group", "anchor": "middle", "offset": 3},
        "layer": [
          {"data": {"values": [{}]}, "mark": {"type": "rule", "strokeDash": [2, 2], "color": "#888", "strokeWidth": 1},
           "encoding": {"y": {"datum": 0, "type": "quantitative", "scale": {"domain": [-0.00194, 0.00386], "nice": false, "zero": false}, "axis": null}}},
          {"data": {"name": "fit"}, "transform": [{"filter": "datum.panel == 'C'"}],
           "mark": {"type": "line", "interpolate": "monotone", "strokeWidth": 1.2},
           "encoding": {
             "x": {"field": "conc", "type": "quantitative", "scale": {"type": "log", "domain": [0.08, 245], "nice": false}, "axis": {"values": [0.1, 1, 10, 100], "format": "~g", "title": null}},
             "y": {"field": "value", "type": "quantitative", "scale": {"domain": [-0.00194, 0.00386], "nice": false, "zero": false}, "axis": {"values": [-0.001, 0, 0.001, 0.002, 0.003], "labels": false, "title": null}},
             "stroke": {"field": "series", "type": "nominal", "scale": {"domain": ["1627", "1642", "1653", "1660", "1680"], "range": ["#2b2bd9", "#22dd22", "#c8c21e", "#f7a021", "#ee1c1c"]}, "legend": null}}},
          {"data": {"name": "titr"}, "transform": [{"filter": "datum.panel == 'C'"}],
           "mark": {"type": "point", "filled": true, "opacity": 1, "size": 60, "strokeWidth": 0},
           "encoding": {
             "x": {"field": "conc", "type": "quantitative", "scale": {"type": "log", "domain": [0.08, 245], "nice": false}, "axis": null},
             "y": {"field": "value", "type": "quantitative", "scale": {"domain": [-0.00194, 0.00386], "nice": false, "zero": false}, "axis": null},
             "fill": {"field": "series", "type": "nominal", "scale": {"domain": ["1680", "1660", "1653", "1642", "1627"], "range": ["#ee1c1c", "#f7a021", "#c8c21e", "#22dd22", "#2b2bd9"]}, "legend": null},
             "shape": {"field": "series", "type": "nominal", "scale": {"domain": ["1680", "1660", "1653", "1642", "1627"], "range": ["circle", "square", "triangle-up", "triangle-down", "M-1.25,-0.13H1.25V0.13H-1.25ZM-0.13,-1.25H0.13V1.25H-0.13Z"]}, "legend": null}}},
          {"data": {"name": "letters"}, "transform": [{"filter": "datum.panel == 'C'"}],
           "mark": {"type": "text", "fontSize": 16, "color": "#111"},
           "encoding": {
             "x": {"field": "x", "type": "quantitative", "scale": {"type": "log", "domain": [0.08, 245], "nice": false}, "axis": {"orient": "top", "values": [0.1, 1, 10, 100], "labels": false, "title": null}},
             "y": {"field": "y", "type": "quantitative", "scale": {"domain": [-0.00194, 0.00386], "nice": false, "zero": false}, "axis": {"orient": "right", "values": [-0.001, 0, 0.001, 0.002, 0.003], "labels": false, "title": null}},
             "text": {"field": "text"}}}
        ],
        "resolve": {"axis": {"x": "independent", "y": "independent"}}
      }
    ]
  },
  {
    "spacing": 4.3,
    "hconcat": [
      {
        "spacing": 12.3,
        "bounds": "flush",
        "title": {"text": "Difference Absorbance", "orient": "left", "anchor": "middle", "fontSize": 16, "offset": 8},
        "vconcat": [
          {
            "width": 213, "height": 173,
            "layer": [
              {"data": {"values": [{}]}, "mark": {"type": "rule", "strokeDash": [2, 2], "color": "#888", "strokeWidth": 1},
               "encoding": {"y": {"datum": 0, "type": "quantitative", "scale": {"domain": [-0.00205, 0.00229], "nice": false, "zero": false}, "axis": null}}},
              {"data": {"name": "spec"}, "transform": [{"filter": "datum.panel == 'D'"}],
               "mark": {"type": "line", "color": "#e8262b", "strokeWidth": 1.5, "interpolate": "catmull-rom"},
               "encoding": {
                 "x": {"field": "wn", "type": "quantitative", "scale": {"domain": [1701.1, 1599.5], "nice": false, "zero": false}, "axis": {"values": [1600, 1610, 1620, 1630, 1640, 1650, 1660, 1670, 1680, 1690, 1700], "labels": false, "title": null}},
                 "y": {"field": "value", "type": "quantitative", "scale": {"domain": [-0.00205, 0.00229], "nice": false, "zero": false}, "axis": {"values": [-0.002, -0.001, 0, 0.001, 0.002], "labelExpr": "datum.value == 0 ? '0' : replace(format(datum.value, '.3f'), '\u2212', '-')", "title": null}}}},
              {"data": {"name": "leaders"}, "transform": [{"filter": "datum.panel == 'D'"}],
               "mark": {"type": "rule", "color": "#333", "strokeWidth": 0.8},
               "encoding": {
                 "x": {"field": "wn1", "type": "quantitative", "scale": {"domain": [1701.1, 1599.5], "nice": false, "zero": false}, "axis": null},
                 "x2": {"field": "wn2"},
                 "y": {"field": "v1", "type": "quantitative", "scale": {"domain": [-0.00205, 0.00229], "nice": false, "zero": false}, "axis": null},
                 "y2": {"field": "v2"}}},
              {"data": {"name": "labels"}, "transform": [{"filter": "datum.panel == 'D'"}],
               "mark": {"type": "text", "fontSize": 13.5, "color": "#111"},
               "encoding": {
                 "x": {"field": "wn", "type": "quantitative", "scale": {"domain": [1701.1, 1599.5], "nice": false, "zero": false}, "axis": null},
                 "y": {"field": "value", "type": "quantitative", "scale": {"domain": [-0.00205, 0.00229], "nice": false, "zero": false}, "axis": null},
                 "text": {"field": "text"}}},
              {"data": {"name": "letters"}, "transform": [{"filter": "datum.panel == 'D'"}],
               "mark": {"type": "text", "fontSize": 16, "color": "#111"},
               "encoding": {
                 "x": {"field": "x", "type": "quantitative", "scale": {"domain": [1701.1, 1599.5], "nice": false, "zero": false}, "axis": {"orient": "top", "values": [1600, 1610, 1620, 1630, 1640, 1650, 1660, 1670, 1680, 1690, 1700], "labels": false, "title": null}},
                 "y": {"field": "y", "type": "quantitative", "scale": {"domain": [-0.00205, 0.00229], "nice": false, "zero": false}, "axis": {"orient": "right", "values": [-0.002, -0.001, 0, 0.001, 0.002], "labels": false, "title": null}},
                 "text": {"field": "text"}}}
            ],
            "resolve": {"axis": {"x": "independent", "y": "independent"}}
          },
          {
            "width": 213, "height": 173,
            "layer": [
              {"data": {"values": [{}]}, "mark": {"type": "rule", "strokeDash": [2, 2], "color": "#333", "strokeWidth": 1},
               "encoding": {"y": {"datum": 0, "type": "quantitative", "scale": {"domain": [-0.0033, 0.01023], "nice": false, "zero": false}, "axis": null}}},
              {"data": {"name": "spec"}, "transform": [{"filter": "datum.panel == 'G'"}],
               "mark": {"type": "line", "color": "#2b33d6", "strokeWidth": 1.5, "interpolate": "catmull-rom"},
               "encoding": {
                 "x": {"field": "wn", "type": "quantitative", "scale": {"domain": [1701.1, 1599.5], "nice": false, "zero": false}, "axis": {"values": [1600, 1610, 1620, 1630, 1640, 1650, 1660, 1670, 1680, 1690, 1700], "labelExpr": "datum.value % 50 == 0 ? '' + datum.value : ''", "labelFlush": 3, "labelFlushOffset": 5, "title": null}},
                 "y": {"field": "value", "type": "quantitative", "scale": {"domain": [-0.0033, 0.01023], "nice": false, "zero": false}, "axis": {"values": [-0.002, 0, 0.002, 0.004, 0.006, 0.008, 0.01], "labelExpr": "datum.value == 0 ? '0' : replace(format(datum.value, '.3f'), '\u2212', '-')", "title": null}}}},
              {"data": {"name": "leaders"}, "transform": [{"filter": "datum.panel == 'G'"}],
               "mark": {"type": "rule", "color": "#333", "strokeWidth": 0.8},
               "encoding": {
                 "x": {"field": "wn1", "type": "quantitative", "scale": {"domain": [1701.1, 1599.5], "nice": false, "zero": false}, "axis": null},
                 "x2": {"field": "wn2"},
                 "y": {"field": "v1", "type": "quantitative", "scale": {"domain": [-0.0033, 0.01023], "nice": false, "zero": false}, "axis": null},
                 "y2": {"field": "v2"}}},
              {"data": {"name": "labels"}, "transform": [{"filter": "datum.panel == 'G'"}],
               "mark": {"type": "text", "fontSize": 13.5, "color": "#111"},
               "encoding": {
                 "x": {"field": "wn", "type": "quantitative", "scale": {"domain": [1701.1, 1599.5], "nice": false, "zero": false}, "axis": null},
                 "y": {"field": "value", "type": "quantitative", "scale": {"domain": [-0.0033, 0.01023], "nice": false, "zero": false}, "axis": null},
                 "text": {"field": "text"}}},
              {"data": {"name": "letters"}, "transform": [{"filter": "datum.panel == 'G'"}],
               "mark": {"type": "text", "fontSize": 16, "color": "#111"},
               "encoding": {
                 "x": {"field": "x", "type": "quantitative", "scale": {"domain": [1701.1, 1599.5], "nice": false, "zero": false}, "axis": {"orient": "top", "values": [1600, 1610, 1620, 1630, 1640, 1650, 1660, 1670, 1680, 1690, 1700], "labels": false, "title": null}},
                 "y": {"field": "y", "type": "quantitative", "scale": {"domain": [-0.0033, 0.01023], "nice": false, "zero": false}, "axis": {"orient": "right", "values": [-0.002, 0, 0.002, 0.004, 0.006, 0.008, 0.01], "labels": false, "title": null}},
                 "text": {"field": "text"}}}
            ],
            "resolve": {"axis": {"x": "independent", "y": "independent"}}
          }
        ]
      },
      {
        "spacing": 12.3,
        "bounds": "flush",
        "vconcat": [
          {
            "width": 213, "height": 173,
            "layer": [
              {"data": {"values": [{}]}, "mark": {"type": "rule", "strokeDash": [2, 2], "color": "#888", "strokeWidth": 1},
               "encoding": {"y": {"datum": 0, "type": "quantitative", "scale": {"domain": [-0.00205, 0.00229], "nice": false, "zero": false}, "axis": null}}},
              {"data": {"name": "spec"}, "transform": [{"filter": "datum.panel == 'E'"}],
               "mark": {"type": "line", "color": "#e8262b", "strokeWidth": 1.5, "interpolate": "catmull-rom"},
               "encoding": {
                 "x": {"field": "wn", "type": "quantitative", "scale": {"domain": [1701.1, 1599.5], "nice": false, "zero": false}, "axis": {"values": [1600, 1610, 1620, 1630, 1640, 1650, 1660, 1670, 1680, 1690, 1700], "labels": false, "title": null}},
                 "y": {"field": "value", "type": "quantitative", "scale": {"domain": [-0.00205, 0.00229], "nice": false, "zero": false}, "axis": {"values": [-0.002, -0.001, 0, 0.001, 0.002], "labels": false, "title": null}}}},
              {"data": {"name": "leaders"}, "transform": [{"filter": "datum.panel == 'E'"}],
               "mark": {"type": "rule", "color": "#333", "strokeWidth": 0.8},
               "encoding": {
                 "x": {"field": "wn1", "type": "quantitative", "scale": {"domain": [1701.1, 1599.5], "nice": false, "zero": false}, "axis": null},
                 "x2": {"field": "wn2"},
                 "y": {"field": "v1", "type": "quantitative", "scale": {"domain": [-0.00205, 0.00229], "nice": false, "zero": false}, "axis": null},
                 "y2": {"field": "v2"}}},
              {"data": {"name": "labels"}, "transform": [{"filter": "datum.panel == 'E'"}],
               "mark": {"type": "text", "fontSize": 13.5, "color": "#111"},
               "encoding": {
                 "x": {"field": "wn", "type": "quantitative", "scale": {"domain": [1701.1, 1599.5], "nice": false, "zero": false}, "axis": null},
                 "y": {"field": "value", "type": "quantitative", "scale": {"domain": [-0.00205, 0.00229], "nice": false, "zero": false}, "axis": null},
                 "text": {"field": "text"}}},
              {"data": {"name": "letters"}, "transform": [{"filter": "datum.panel == 'E'"}],
               "mark": {"type": "text", "fontSize": 16, "color": "#111"},
               "encoding": {
                 "x": {"field": "x", "type": "quantitative", "scale": {"domain": [1701.1, 1599.5], "nice": false, "zero": false}, "axis": {"orient": "top", "values": [1600, 1610, 1620, 1630, 1640, 1650, 1660, 1670, 1680, 1690, 1700], "labels": false, "title": null}},
                 "y": {"field": "y", "type": "quantitative", "scale": {"domain": [-0.00205, 0.00229], "nice": false, "zero": false}, "axis": {"orient": "right", "values": [-0.002, -0.001, 0, 0.001, 0.002], "labels": false, "title": null}},
                 "text": {"field": "text"}}}
            ],
            "resolve": {"axis": {"x": "independent", "y": "independent"}}
          },
          {
            "width": 213, "height": 173,
            "layer": [
              {"data": {"values": [{}]}, "mark": {"type": "rule", "strokeDash": [2, 2], "color": "#333", "strokeWidth": 1},
               "encoding": {"y": {"datum": 0, "type": "quantitative", "scale": {"domain": [-0.0033, 0.01023], "nice": false, "zero": false}, "axis": null}}},
              {"data": {"name": "spec"}, "transform": [{"filter": "datum.panel == 'H'"}],
               "mark": {"type": "line", "color": "#2b33d6", "strokeWidth": 1.5, "interpolate": "catmull-rom"},
               "encoding": {
                 "x": {"field": "wn", "type": "quantitative", "scale": {"domain": [1701.1, 1599.5], "nice": false, "zero": false}, "axis": {"values": [1600, 1610, 1620, 1630, 1640, 1650, 1660, 1670, 1680, 1690, 1700], "labelExpr": "datum.value % 50 == 0 ? '' + datum.value : ''", "labelFlush": 3, "labelFlushOffset": 5, "title": "Wavenumber (cm\u207b\u00b9)", "titlePadding": 3}},
                 "y": {"field": "value", "type": "quantitative", "scale": {"domain": [-0.0033, 0.01023], "nice": false, "zero": false}, "axis": {"values": [-0.002, 0, 0.002, 0.004, 0.006, 0.008, 0.01], "labels": false, "title": null}}}},
              {"data": {"name": "leaders"}, "transform": [{"filter": "datum.panel == 'H'"}],
               "mark": {"type": "rule", "color": "#333", "strokeWidth": 0.8},
               "encoding": {
                 "x": {"field": "wn1", "type": "quantitative", "scale": {"domain": [1701.1, 1599.5], "nice": false, "zero": false}, "axis": null},
                 "x2": {"field": "wn2"},
                 "y": {"field": "v1", "type": "quantitative", "scale": {"domain": [-0.0033, 0.01023], "nice": false, "zero": false}, "axis": null},
                 "y2": {"field": "v2"}}},
              {"data": {"name": "labels"}, "transform": [{"filter": "datum.panel == 'H'"}],
               "mark": {"type": "text", "fontSize": 13.5, "color": "#111"},
               "encoding": {
                 "x": {"field": "wn", "type": "quantitative", "scale": {"domain": [1701.1, 1599.5], "nice": false, "zero": false}, "axis": null},
                 "y": {"field": "value", "type": "quantitative", "scale": {"domain": [-0.0033, 0.01023], "nice": false, "zero": false}, "axis": null},
                 "text": {"field": "text"}}},
              {"data": {"name": "letters"}, "transform": [{"filter": "datum.panel == 'H'"}],
               "mark": {"type": "text", "fontSize": 16, "color": "#111"},
               "encoding": {
                 "x": {"field": "x", "type": "quantitative", "scale": {"domain": [1701.1, 1599.5], "nice": false, "zero": false}, "axis": {"orient": "top", "values": [1600, 1610, 1620, 1630, 1640, 1650, 1660, 1670, 1680, 1690, 1700], "labels": false, "title": null}},
                 "y": {"field": "y", "type": "quantitative", "scale": {"domain": [-0.0033, 0.01023], "nice": false, "zero": false}, "axis": {"orient": "right", "values": [-0.002, 0, 0.002, 0.004, 0.006, 0.008, 0.01], "labels": false, "title": null}},
                 "text": {"field": "text"}}}
            ],
            "resolve": {"axis": {"x": "independent", "y": "independent"}}
          }
        ]
      },
      {
        "spacing": 12.3,
        "bounds": "flush",
        "vconcat": [
          {
            "width": 213, "height": 173,
            "layer": [
              {"data": {"values": [{}]}, "mark": {"type": "rule", "strokeDash": [2, 2], "color": "#888", "strokeWidth": 1},
               "encoding": {"y": {"datum": 0, "type": "quantitative", "scale": {"domain": [-0.00205, 0.00229], "nice": false, "zero": false}, "axis": null}}},
              {"data": {"name": "spec"}, "transform": [{"filter": "datum.panel == 'F'"}],
               "mark": {"type": "line", "color": "#e8262b", "strokeWidth": 1.5, "interpolate": "catmull-rom"},
               "encoding": {
                 "x": {"field": "wn", "type": "quantitative", "scale": {"domain": [1701.1, 1599.5], "nice": false, "zero": false}, "axis": {"values": [1600, 1610, 1620, 1630, 1640, 1650, 1660, 1670, 1680, 1690, 1700], "labels": false, "title": null}},
                 "y": {"field": "value", "type": "quantitative", "scale": {"domain": [-0.00205, 0.00229], "nice": false, "zero": false}, "axis": {"values": [-0.002, -0.001, 0, 0.001, 0.002], "labels": false, "title": null}}}},
              {"data": {"name": "leaders"}, "transform": [{"filter": "datum.panel == 'F'"}],
               "mark": {"type": "rule", "color": "#333", "strokeWidth": 0.8},
               "encoding": {
                 "x": {"field": "wn1", "type": "quantitative", "scale": {"domain": [1701.1, 1599.5], "nice": false, "zero": false}, "axis": null},
                 "x2": {"field": "wn2"},
                 "y": {"field": "v1", "type": "quantitative", "scale": {"domain": [-0.00205, 0.00229], "nice": false, "zero": false}, "axis": null},
                 "y2": {"field": "v2"}}},
              {"data": {"name": "labels"}, "transform": [{"filter": "datum.panel == 'F'"}],
               "mark": {"type": "text", "fontSize": 13.5, "color": "#111"},
               "encoding": {
                 "x": {"field": "wn", "type": "quantitative", "scale": {"domain": [1701.1, 1599.5], "nice": false, "zero": false}, "axis": null},
                 "y": {"field": "value", "type": "quantitative", "scale": {"domain": [-0.00205, 0.00229], "nice": false, "zero": false}, "axis": null},
                 "text": {"field": "text"}}},
              {"data": {"name": "letters"}, "transform": [{"filter": "datum.panel == 'F'"}],
               "mark": {"type": "text", "fontSize": 16, "color": "#111"},
               "encoding": {
                 "x": {"field": "x", "type": "quantitative", "scale": {"domain": [1701.1, 1599.5], "nice": false, "zero": false}, "axis": {"orient": "top", "values": [1600, 1610, 1620, 1630, 1640, 1650, 1660, 1670, 1680, 1690, 1700], "labels": false, "title": null}},
                 "y": {"field": "y", "type": "quantitative", "scale": {"domain": [-0.00205, 0.00229], "nice": false, "zero": false}, "axis": {"orient": "right", "values": [-0.002, -0.001, 0, 0.001, 0.002], "labels": false, "title": null}},
                 "text": {"field": "text"}}}
            ],
            "resolve": {"axis": {"x": "independent", "y": "independent"}}
          },
          {
            "width": 213, "height": 173,
            "layer": [
              {"data": {"values": [{}]}, "mark": {"type": "rule", "strokeDash": [2, 2], "color": "#333", "strokeWidth": 1},
               "encoding": {"y": {"datum": 0, "type": "quantitative", "scale": {"domain": [-0.0033, 0.01023], "nice": false, "zero": false}, "axis": null}}},
              {"data": {"name": "spec"}, "transform": [{"filter": "datum.panel == 'I'"}],
               "mark": {"type": "line", "color": "#2b33d6", "strokeWidth": 1.5, "interpolate": "catmull-rom"},
               "encoding": {
                 "x": {"field": "wn", "type": "quantitative", "scale": {"domain": [1701.1, 1599.5], "nice": false, "zero": false}, "axis": {"values": [1600, 1610, 1620, 1630, 1640, 1650, 1660, 1670, 1680, 1690, 1700], "labelExpr": "datum.value % 50 == 0 ? '' + datum.value : ''", "labelFlush": 3, "labelFlushOffset": 5, "title": null}},
                 "y": {"field": "value", "type": "quantitative", "scale": {"domain": [-0.0033, 0.01023], "nice": false, "zero": false}, "axis": {"values": [-0.002, 0, 0.002, 0.004, 0.006, 0.008, 0.01], "labels": false, "title": null}}}},
              {"data": {"name": "leaders"}, "transform": [{"filter": "datum.panel == 'I'"}],
               "mark": {"type": "rule", "color": "#333", "strokeWidth": 0.8},
               "encoding": {
                 "x": {"field": "wn1", "type": "quantitative", "scale": {"domain": [1701.1, 1599.5], "nice": false, "zero": false}, "axis": null},
                 "x2": {"field": "wn2"},
                 "y": {"field": "v1", "type": "quantitative", "scale": {"domain": [-0.0033, 0.01023], "nice": false, "zero": false}, "axis": null},
                 "y2": {"field": "v2"}}},
              {"data": {"name": "labels"}, "transform": [{"filter": "datum.panel == 'I'"}],
               "mark": {"type": "text", "fontSize": 13.5, "color": "#111"},
               "encoding": {
                 "x": {"field": "wn", "type": "quantitative", "scale": {"domain": [1701.1, 1599.5], "nice": false, "zero": false}, "axis": null},
                 "y": {"field": "value", "type": "quantitative", "scale": {"domain": [-0.0033, 0.01023], "nice": false, "zero": false}, "axis": null},
                 "text": {"field": "text"}}},
              {"data": {"name": "letters"}, "transform": [{"filter": "datum.panel == 'I'"}],
               "mark": {"type": "text", "fontSize": 16, "color": "#111"},
               "encoding": {
                 "x": {"field": "x", "type": "quantitative", "scale": {"domain": [1701.1, 1599.5], "nice": false, "zero": false}, "axis": {"orient": "top", "values": [1600, 1610, 1620, 1630, 1640, 1650, 1660, 1670, 1680, 1690, 1700], "labels": false, "title": null}},
                 "y": {"field": "y", "type": "quantitative", "scale": {"domain": [-0.0033, 0.01023], "nice": false, "zero": false}, "axis": {"orient": "right", "values": [-0.002, 0, 0.002, 0.004, 0.006, 0.008, 0.01], "labels": false, "title": null}},
                 "text": {"field": "text"}}}
            ],
            "resolve": {"axis": {"x": "independent", "y": "independent"}}
          }
        ]
      }
    ]
  }
],
"spacing": 16,
"resolve": {"scale": {"fill": "independent", "stroke": "independent", "shape": "independent"}}
}
